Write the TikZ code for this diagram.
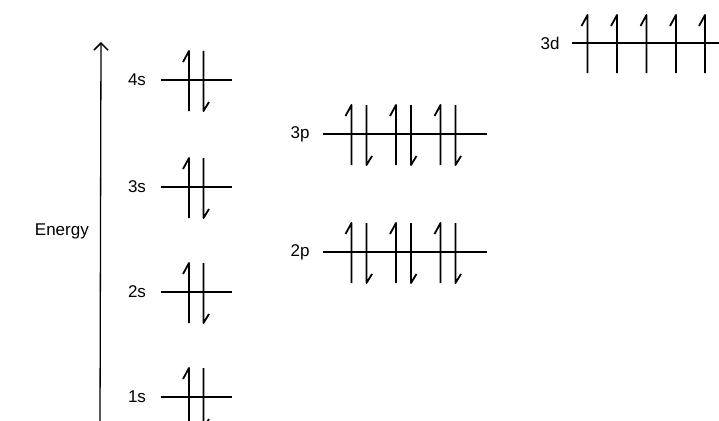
\documentclass[tikz,border=0pt]{standalone}
\usepackage{fontspec}
\setmainfont{Liberation Sans}
\usetikzlibrary{arrows.meta}
\tikzset{
  lvl/.style={line width=1.4pt},
  spin/.style={line width=1.8pt, line join=round},
  lbl/.style={font=\fontsize{17}{19}\selectfont, inner sep=0pt},
  axis/.style={line width=1.3pt, -{Straight Barb[length=7pt,width=14pt,line width=1.5pt]}}
}
% up harpoon: x, top, bottom
\newcommand\myup[3]{\draw[spin] (#1,#3) -- (#1,#2) -- ++(-6,11);}
% down harpoon: x, top, bottom
\newcommand\mydown[3]{\draw[spin] (#1,#2) -- (#1,#3) -- ++(5.5,-9);}
\begin{document}
\begin{tikzpicture}[x=1pt,y=-1pt]
\useasboundingbox (0,0) rectangle (719,420);
% energy axis
\coordinate (ebot) at (100,425);
\coordinate (etop) at (101,42);
\draw[axis] (ebot) -- (etop);
\node[lbl, anchor=east] (energy) at (89,231) {Energy};
% s levels
\foreach \n/\y in {4/80,3/187,2/292,1/397}{
  \node[lbl] (l\n s) at (137,\y) {\n s};
  \coordinate (a\n s) at (161,\y);
  \coordinate (b\n s) at (232,\y);
  \draw[lvl] (a\n s) -- (b\n s);
  \myup{189}{\y-29}{\y+31}
  \mydown{203.5}{\y-29}{\y+31}
}
% p levels
\foreach \n/\y in {3/134,2/252}{
  \node[lbl] (l\n p) at (300,\y) {\n p};
  \coordinate (a\n p) at (323,\y);
  \coordinate (b\n p) at (487,\y);
  \draw[lvl] (a\n p) -- (b\n p);
  \foreach \x in {351.5,396,440.5}{
    \myup{\x}{\y-29}{\y+31}
    \mydown{\x+15}{\y-29}{\y+31}
  }
}
% 3d level
\node[lbl] (l3d) at (550,43) {3d};
\coordinate (a3d) at (572,43);
\coordinate (b3d) at (719,43);
\draw[lvl] (a3d) -- (b3d);
\foreach \x in {587.5,617,646.5,676,705}{
  \myup{\x}{15}{73}
}
\end{tikzpicture}
\end{document}
